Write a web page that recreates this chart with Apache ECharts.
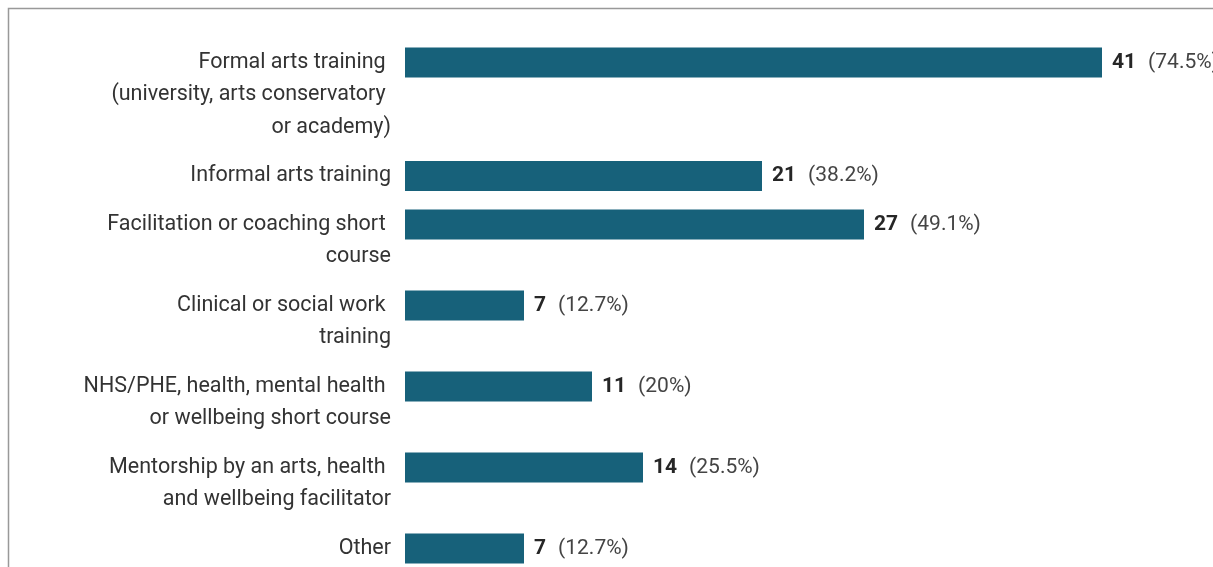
<!DOCTYPE html>
<html>
<head>
<meta charset="utf-8">
<script src="https://cdn.jsdelivr.net/npm/echarts@6/dist/echarts.min.js"></script>
<style>
    html, body { margin: 0; padding: 0; background: #fff; }
    #chart { width: 1213px; height: 567px; }
</style>
</head>
<body>
<div id="chart"></div>
<script>
// labels wrap like the original: every line but the last keeps its trailing space
var categories = [
    'Formal arts training \n(university, arts conservatory \nor academy)',
    'Informal arts training',
    'Facilitation or coaching short \ncourse',
    'Clinical or social work \ntraining',
    'NHS/PHE, health, mental health \nor wellbeing short course',
    'Mentorship by an arts, health \nand wellbeing facilitator',
    'Other'
];
var counts = [41, 21, 27, 7, 11, 14, 7];
var percents = ['74.5%', '38.2%', '49.1%', '12.7%', '20%', '25.5%', '12.7%'];
var axisMax = 47;

var lineH = 32.6;
var rowGap = 15.8;
var firstCenter = 62.5;
var barLeft = 405;
var pxPerUnit = 17;
var font = 'Roboto, "Noto Sans", sans-serif';

var grids = [], xAxes = [], yAxes = [], series = [];
var center = firstCenter;

categories.forEach(function (cat, i) {
    var lines = cat.split('\n').length;

    grids.push({
        left: barLeft,
        top: center - 15,
        height: 30,
        width: axisMax * pxPerUnit,
        outerBoundsMode: 'none',
        containLabel: false
    });
    xAxes.push({
        gridIndex: i,
        type: 'value',
        min: 0,
        max: axisMax,
        show: false
    });
    yAxes.push({
        gridIndex: i,
        type: 'category',
        data: [cat],
        axisLine: { show: false },
        axisTick: { show: false },
        axisLabel: {
            margin: 14,
            fontFamily: font,
            fontSize: 21.5,
            color: '#333',
            lineHeight: lineH,
            // pad with empty lines above so the first line sits level with the bar
            formatter: function (v) {
                return new Array(v.split('\n').length).join('\n') + v;
            }
        }
    });
    series.push({
        type: 'bar',
        xAxisIndex: i,
        yAxisIndex: i,
        barWidth: 30,
        data: [counts[i]],
        itemStyle: { color: '#17617a' },
        silent: true,
        label: {
            show: true,
            position: 'right',
            distance: 10,
            formatter: '{v|' + counts[i] + '}{p|(' + percents[i] + ')}',
            rich: {
                v: { fontFamily: font, fontSize: 21, fontWeight: 'bold', color: '#262626' },
                p: { fontFamily: font, fontSize: 21, color: '#444', padding: [0, 0, 0, 12] }
            }
        }
    });

    center += lines * lineH + rowGap;
});

var chart = echarts.init(document.getElementById('chart'));
chart.setOption({
    animation: false,
    backgroundColor: '#fff',
    grid: grids,
    xAxis: xAxes,
    yAxis: yAxes,
    series: series,
    graphic: [{
        type: 'polyline',
        shape: { points: [[8.5, 567], [8.5, 8.5], [1213, 8.5]] },
        style: { stroke: '#999', lineWidth: 1.5, fill: null },
        silent: true
    }]
});
</script>
</body>
</html>
